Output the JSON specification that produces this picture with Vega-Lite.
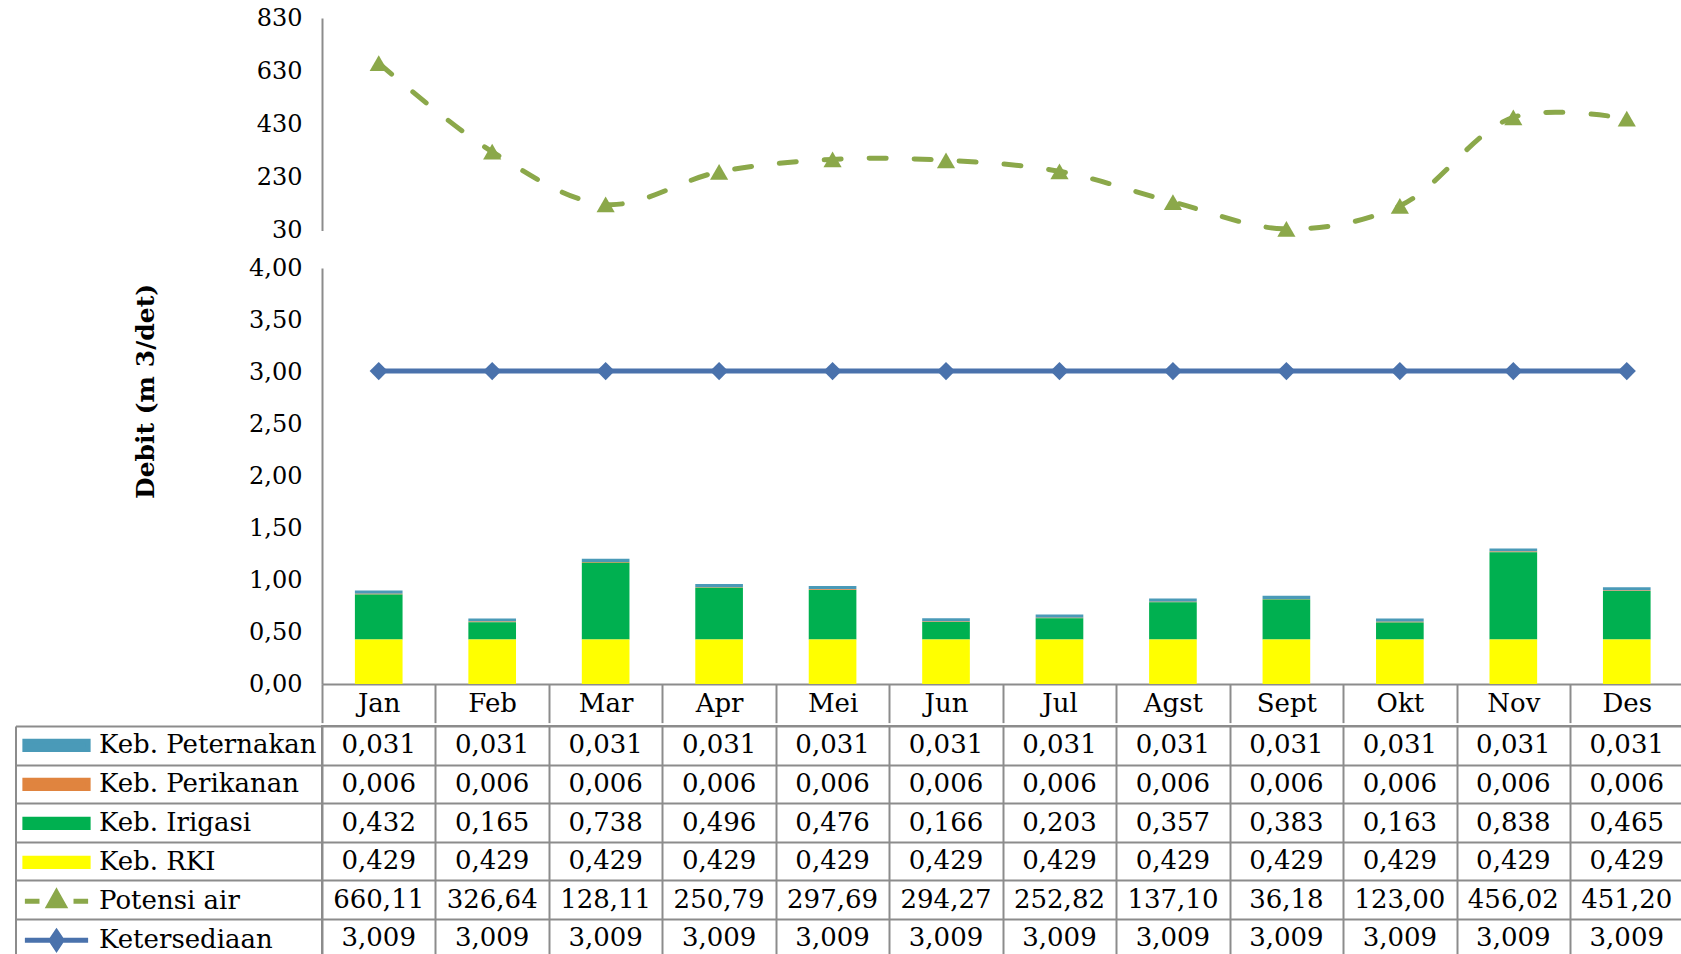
{
  "$schema": "https://vega.github.io/schema/vega-lite/v6.json",
  "padding": {"left": 13, "top": 6, "right": 0, "bottom": 0},
  "spacing": 0,
  "config": {
    "font": "DejaVu Serif",
    "view": {"stroke": null},
    "locale": {"number": {"decimal": ",", "thousands": ".", "grouping": [3], "currency": ["", ""]}},
    "axis": {
      "labelFont": "DejaVu Serif", "labelFontSize": 24, "labelColor": "#000",
      "domainColor": "#8c8c8c", "domainWidth": 2,
      "tickColor": "#8c8c8c", "tickWidth": 2,
      "gridColor": "#8c8c8c", "gridWidth": 2
    }
  },
  "resolve": {
    "scale": {"color": "independent", "fill": "independent", "stroke": "independent", "shape": "independent"},
    "legend": {"color": "independent", "fill": "independent", "stroke": "independent", "shape": "independent"}
  },
  "datasets": {
    "tabel": [
      {"bulan": "Jan", "seri": "Keb. Peternakan", "nilai": 0.031},
      {"bulan": "Feb", "seri": "Keb. Peternakan", "nilai": 0.031},
      {"bulan": "Mar", "seri": "Keb. Peternakan", "nilai": 0.031},
      {"bulan": "Apr", "seri": "Keb. Peternakan", "nilai": 0.031},
      {"bulan": "Mei", "seri": "Keb. Peternakan", "nilai": 0.031},
      {"bulan": "Jun", "seri": "Keb. Peternakan", "nilai": 0.031},
      {"bulan": "Jul", "seri": "Keb. Peternakan", "nilai": 0.031},
      {"bulan": "Agst", "seri": "Keb. Peternakan", "nilai": 0.031},
      {"bulan": "Sept", "seri": "Keb. Peternakan", "nilai": 0.031},
      {"bulan": "Okt", "seri": "Keb. Peternakan", "nilai": 0.031},
      {"bulan": "Nov", "seri": "Keb. Peternakan", "nilai": 0.031},
      {"bulan": "Des", "seri": "Keb. Peternakan", "nilai": 0.031},
      {"bulan": "Jan", "seri": "Keb. Perikanan", "nilai": 0.006},
      {"bulan": "Feb", "seri": "Keb. Perikanan", "nilai": 0.006},
      {"bulan": "Mar", "seri": "Keb. Perikanan", "nilai": 0.006},
      {"bulan": "Apr", "seri": "Keb. Perikanan", "nilai": 0.006},
      {"bulan": "Mei", "seri": "Keb. Perikanan", "nilai": 0.006},
      {"bulan": "Jun", "seri": "Keb. Perikanan", "nilai": 0.006},
      {"bulan": "Jul", "seri": "Keb. Perikanan", "nilai": 0.006},
      {"bulan": "Agst", "seri": "Keb. Perikanan", "nilai": 0.006},
      {"bulan": "Sept", "seri": "Keb. Perikanan", "nilai": 0.006},
      {"bulan": "Okt", "seri": "Keb. Perikanan", "nilai": 0.006},
      {"bulan": "Nov", "seri": "Keb. Perikanan", "nilai": 0.006},
      {"bulan": "Des", "seri": "Keb. Perikanan", "nilai": 0.006},
      {"bulan": "Jan", "seri": "Keb. Irigasi", "nilai": 0.432},
      {"bulan": "Feb", "seri": "Keb. Irigasi", "nilai": 0.165},
      {"bulan": "Mar", "seri": "Keb. Irigasi", "nilai": 0.738},
      {"bulan": "Apr", "seri": "Keb. Irigasi", "nilai": 0.496},
      {"bulan": "Mei", "seri": "Keb. Irigasi", "nilai": 0.476},
      {"bulan": "Jun", "seri": "Keb. Irigasi", "nilai": 0.166},
      {"bulan": "Jul", "seri": "Keb. Irigasi", "nilai": 0.203},
      {"bulan": "Agst", "seri": "Keb. Irigasi", "nilai": 0.357},
      {"bulan": "Sept", "seri": "Keb. Irigasi", "nilai": 0.383},
      {"bulan": "Okt", "seri": "Keb. Irigasi", "nilai": 0.163},
      {"bulan": "Nov", "seri": "Keb. Irigasi", "nilai": 0.838},
      {"bulan": "Des", "seri": "Keb. Irigasi", "nilai": 0.465},
      {"bulan": "Jan", "seri": "Keb. RKI", "nilai": 0.429},
      {"bulan": "Feb", "seri": "Keb. RKI", "nilai": 0.429},
      {"bulan": "Mar", "seri": "Keb. RKI", "nilai": 0.429},
      {"bulan": "Apr", "seri": "Keb. RKI", "nilai": 0.429},
      {"bulan": "Mei", "seri": "Keb. RKI", "nilai": 0.429},
      {"bulan": "Jun", "seri": "Keb. RKI", "nilai": 0.429},
      {"bulan": "Jul", "seri": "Keb. RKI", "nilai": 0.429},
      {"bulan": "Agst", "seri": "Keb. RKI", "nilai": 0.429},
      {"bulan": "Sept", "seri": "Keb. RKI", "nilai": 0.429},
      {"bulan": "Okt", "seri": "Keb. RKI", "nilai": 0.429},
      {"bulan": "Nov", "seri": "Keb. RKI", "nilai": 0.429},
      {"bulan": "Des", "seri": "Keb. RKI", "nilai": 0.429},
      {"bulan": "Jan", "seri": "Potensi air", "nilai": 660.11},
      {"bulan": "Feb", "seri": "Potensi air", "nilai": 326.64},
      {"bulan": "Mar", "seri": "Potensi air", "nilai": 128.11},
      {"bulan": "Apr", "seri": "Potensi air", "nilai": 250.79},
      {"bulan": "Mei", "seri": "Potensi air", "nilai": 297.69},
      {"bulan": "Jun", "seri": "Potensi air", "nilai": 294.27},
      {"bulan": "Jul", "seri": "Potensi air", "nilai": 252.82},
      {"bulan": "Agst", "seri": "Potensi air", "nilai": 137.10},
      {"bulan": "Sept", "seri": "Potensi air", "nilai": 36.18},
      {"bulan": "Okt", "seri": "Potensi air", "nilai": 123.00},
      {"bulan": "Nov", "seri": "Potensi air", "nilai": 456.02},
      {"bulan": "Des", "seri": "Potensi air", "nilai": 451.20},
      {"bulan": "Jan", "seri": "Ketersediaan", "nilai": 3.009},
      {"bulan": "Feb", "seri": "Ketersediaan", "nilai": 3.009},
      {"bulan": "Mar", "seri": "Ketersediaan", "nilai": 3.009},
      {"bulan": "Apr", "seri": "Ketersediaan", "nilai": 3.009},
      {"bulan": "Mei", "seri": "Ketersediaan", "nilai": 3.009},
      {"bulan": "Jun", "seri": "Ketersediaan", "nilai": 3.009},
      {"bulan": "Jul", "seri": "Ketersediaan", "nilai": 3.009},
      {"bulan": "Agst", "seri": "Ketersediaan", "nilai": 3.009},
      {"bulan": "Sept", "seri": "Ketersediaan", "nilai": 3.009},
      {"bulan": "Okt", "seri": "Ketersediaan", "nilai": 3.009},
      {"bulan": "Nov", "seri": "Ketersediaan", "nilai": 3.009},
      {"bulan": "Des", "seri": "Ketersediaan", "nilai": 3.009}
    ]
  },
  "vconcat": [
    {
      "width": 1361.5,
      "height": 212.5,
      "data": {"name": "tabel"},
      "transform": [{"filter": "datum.seri === 'Potensi air'"}],
      "mark": {
        "type": "line", "interpolate": "catmull-rom", "color": "#8BA84A",
        "strokeWidth": 5, "strokeDash": [17, 28], "strokeCap": "round",
        "point": {"shape": "triangle-up", "size": 330, "filled": true, "color": "#8BA84A"}
      },
      "encoding": {
        "x": {
          "field": "bulan", "type": "nominal",
          "sort": ["Jan", "Feb", "Mar", "Apr", "Mei", "Jun", "Jul", "Agst", "Sept", "Okt", "Nov", "Des"],
          "scale": {"type": "band", "paddingInner": 0, "paddingOuter": 0},
          "axis": {"domain": false, "ticks": false, "labels": false, "grid": false, "title": " ", "titlePadding": 0, "titleFontSize": 25}
        },
        "y": {
          "field": "nilai", "type": "quantitative",
          "scale": {"domain": [30, 830], "nice": false, "zero": false},
          "axis": {"values": [30, 230, 430, 630, 830], "format": "d", "ticks": false, "grid": false, "labelPadding": 20, "title": null}
        }
      }
    },
    {
      "width": 1361.5,
      "height": 416,
      "data": {"name": "tabel"},
      "encoding": {
        "x": {
          "field": "bulan", "type": "nominal",
          "sort": ["Jan", "Feb", "Mar", "Apr", "Mei", "Jun", "Jul", "Agst", "Sept", "Okt", "Nov", "Des"],
          "scale": {"type": "band", "paddingInner": 0, "paddingOuter": 0},
          "axis": {"title": null, "labelAngle": 0, "labelFontSize": 26, "tickBand": "extent", "tickSize": 38.6, "labelPadding": -19.3, "labelBaseline": "middle", "grid": false}
        }
      },
      "layer": [
        {
          "transform": [
            {"filter": "indexof(['Keb. Peternakan','Keb. Perikanan','Keb. Irigasi','Keb. RKI'], datum.seri) >= 0"},
            {"calculate": "indexof(['Keb. RKI','Keb. Irigasi','Keb. Perikanan','Keb. Peternakan'], datum.seri)", "as": "urutan"}
          ],
          "mark": {"type": "bar", "width": {"band": 0.42}},
          "encoding": {
            "y": {
              "field": "nilai", "type": "quantitative", "stack": "zero",
              "scale": {"domain": [0, 4], "nice": false},
              "axis": {
                "values": [0, 0.5, 1, 1.5, 2, 2.5, 3, 3.5, 4], "format": ".2f", "ticks": false, "grid": false, "labelPadding": 20,
                "title": "Debit (m 3/det)", "titleFont": "DejaVu Serif", "titleFontWeight": "bold", "titleFontSize": 25, "titleColor": "#000",
                "titleX": -176.5, "titleY": 123, "titleAngle": -90, "titleBaseline": "middle", "titleAlign": "center"
              }
            },
            "color": {
              "field": "seri", "type": "nominal",
              "scale": {"domain": ["Keb. RKI", "Keb. Irigasi", "Keb. Perikanan", "Keb. Peternakan"], "range": ["#FFFF00", "#00B050", "#E0843F", "#4A9AB8"]},
              "legend": null
            },
            "order": {"field": "urutan", "type": "quantitative", "sort": "ascending"}
          }
        },
        {
          "transform": [{"filter": "datum.seri === 'Ketersediaan'"}],
          "mark": {"type": "line", "color": "#4A72AC", "strokeWidth": 5, "point": {"shape": "diamond", "size": 330, "filled": true, "color": "#4A72AC"}},
          "encoding": {"y": {"field": "nilai", "type": "quantitative"}}
        }
      ]
    },
    {
      "width": 1361.5,
      "height": 231.6,
      "view": {"stroke": "#8c8c8c", "strokeWidth": 2},
      "data": {"name": "tabel"},
      "encoding": {
        "x": {
          "field": "bulan", "type": "nominal",
          "sort": ["Jan", "Feb", "Mar", "Apr", "Mei", "Jun", "Jul", "Agst", "Sept", "Okt", "Nov", "Des"],
          "scale": {"type": "band", "paddingInner": 0, "paddingOuter": 0},
          "axis": {"labels": false, "ticks": false, "domain": false, "grid": true, "tickBand": "extent", "title": null}
        },
        "y": {
          "field": "seri", "type": "nominal",
          "sort": ["Keb. Peternakan", "Keb. Perikanan", "Keb. Irigasi", "Keb. RKI", "Potensi air", "Ketersediaan"],
          "scale": {"type": "band", "paddingInner": 0, "paddingOuter": 0},
          "axis": {"labels": false, "title": null, "offset": 306.5, "tickSize": -306.5, "tickBand": "extent", "domain": true, "grid": true}
        }
      },
      "layer": [
        {
          "transform": [{"filter": "datum.seri !== 'Potensi air'"}],
          "mark": {"type": "text", "fontSize": 26, "font": "DejaVu Serif", "color": "#000"},
          "encoding": {"text": {"field": "nilai", "type": "quantitative", "format": ".3f"}}
        },
        {
          "transform": [{"filter": "datum.seri === 'Potensi air'"}],
          "mark": {"type": "text", "fontSize": 26, "font": "DejaVu Serif", "color": "#000"},
          "encoding": {"text": {"field": "nilai", "type": "quantitative", "format": ".2f"}}
        },
        {
          "transform": [{"filter": "datum.bulan === 'Jan'"}],
          "mark": {"type": "point", "opacity": 0},
          "encoding": {
            "fill": {
              "field": "seri", "type": "nominal",
              "scale": {"domain": ["Keb. Peternakan", "Keb. Perikanan", "Keb. Irigasi", "Keb. RKI", "Potensi air", "Ketersediaan"], "range": ["#4A9AB8", "#E0843F", "#00B050", "#FFFF00", "#8BA84A", "#4A72AC"]},
              "legend": {"orient": "none", "legendX": -302, "legendY": 0, "title": null, "clipHeight": 38.6, "rowPadding": 0, "padding": 0, "symbolSize": 4624, "symbolStrokeWidth": 5, "symbolOpacity": 1, "labelFontSize": 26, "labelFont": "DejaVu Serif", "labelColor": "#000", "labelLimit": 400, "labelOffset": 6}
            },
            "stroke": {
              "field": "seri", "type": "nominal",
              "scale": {"domain": ["Keb. Peternakan", "Keb. Perikanan", "Keb. Irigasi", "Keb. RKI", "Potensi air", "Ketersediaan"], "range": ["#4A9AB8", "#E0843F", "#00B050", "#FFFF00", "#8BA84A", "#4A72AC"]},
              "legend": {"orient": "none", "legendX": -302, "legendY": 0, "title": null, "clipHeight": 38.6, "rowPadding": 0, "padding": 0, "symbolSize": 4624, "symbolStrokeWidth": 5, "symbolOpacity": 1, "labelFontSize": 26, "labelFont": "DejaVu Serif", "labelColor": "#000", "labelLimit": 400, "labelOffset": 6}
            },
            "shape": {
              "field": "seri", "type": "nominal",
              "scale": {"domain": ["Keb. Peternakan", "Keb. Perikanan", "Keb. Irigasi", "Keb. RKI", "Potensi air", "Ketersediaan"], "range": ["M-0.93,-0.12H0.93V0.12H-0.93Z", "M-0.93,-0.12H0.93V0.12H-0.93Z", "M-0.93,-0.12H0.93V0.12H-0.93Z", "M-0.93,-0.12H0.93V0.12H-0.93Z", "M-0.93,0H-0.5M0.5,0H0.93M0,-0.26L0.22,0.13H-0.22Z", "M-0.93,0H0.93M0,-0.24L0.16,0L0,0.24L-0.16,0Z"]},
              "legend": {"orient": "none", "legendX": -302, "legendY": 0, "title": null, "clipHeight": 38.6, "rowPadding": 0, "padding": 0, "symbolSize": 4624, "symbolStrokeWidth": 5, "symbolOpacity": 1, "labelFontSize": 26, "labelFont": "DejaVu Serif", "labelColor": "#000", "labelLimit": 400, "labelOffset": 6}
            }
          }
        }
      ]
    }
  ]
}
